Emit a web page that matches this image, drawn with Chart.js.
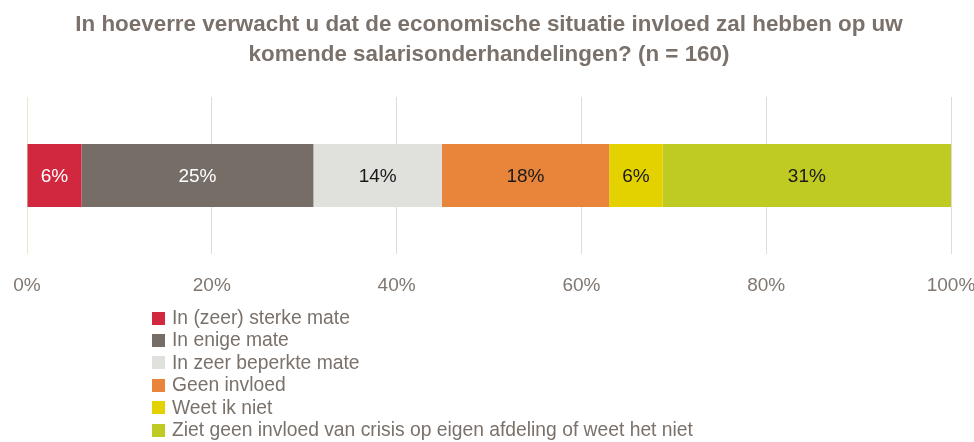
<!DOCTYPE html>
<html>
<head>
<meta charset="utf-8">
<script src="https://cdn.jsdelivr.net/npm/chart.js@4.4.1/dist/chart.umd.min.js"></script>
<style>
  html, body { margin: 0; padding: 0; background: #ffffff; }
  #wrap { position: relative; width: 974px; height: 442px; }
  #legend { position: absolute; left: 152px; top: 307px; font-family: "Liberation Sans", Arial, sans-serif; font-size: 19.3px; color: #7a716b; }
  #legend .item { height: 22.4px; line-height: 22.4px; white-space: nowrap; display: flex; align-items: center; }
  #legend .sw { width: 13px; height: 13px; margin-right: 7px; flex: none; }
</style>
</head>
<body>
<div id="wrap">
  <canvas id="c" width="974" height="442"></canvas>
  <div id="legend"></div>
</div>
<script>
const titleLines = ["In hoeverre verwacht u dat de economische situatie invloed zal hebben op uw", "komende salarisonderhandelingen? (n = 160)"];
const categories = [""];
const seriesNames = ["In (zeer) sterke mate", "In enige mate", "In zeer beperkte mate", "Geen invloed", "Weet ik niet", "Ziet geen invloed van crisis op eigen afdeling of weet het niet"];
const seriesValues = [5.9, 25.1, 13.9, 18.1, 5.8, 31.2];
const seriesColors = ["#d2283f", "#766d67", "#e0e0dc", "#e8853b", "#e3d200", "#bfca22"];
const labelColors = ["#ffffff", "#ffffff", "#1a1a1a", "#1a1a1a", "#1a1a1a", "#1a1a1a"];
const tickValues = [0, 20, 40, 60, 80, 100];

const datasets = seriesNames.map((name, i) => ({
  label: name,
  data: [seriesValues[i]],
  backgroundColor: seriesColors[i],
  borderWidth: 0,
  barPercentage: 0.4,
  categoryPercentage: 1.0
}));

const valueLabels = {
  id: 'valueLabels',
  afterDatasetsDraw(chart) {
    const ctx = chart.ctx;
    ctx.save();
    ctx.font = '19px "Liberation Sans", Arial, sans-serif';
    ctx.textAlign = 'center';
    ctx.textBaseline = 'middle';
    chart.data.datasets.forEach((ds, i) => {
      const meta = chart.getDatasetMeta(i);
      meta.data.forEach((el, j) => {
        const cx = (el.x + el.base) / 2;
        ctx.fillStyle = labelColors[i];
        ctx.fillText(Math.round(ds.data[j]) + '%', cx, el.y + 1);
      });
    });
    ctx.restore();
  }
};

const chart = new Chart(document.getElementById('c'), {
  type: 'bar',
  data: { labels: categories, datasets },
  options: {
    indexAxis: 'y',
    responsive: false,
    animation: false,
    layout: { padding: { left: 27, right: 23, top: 0, bottom: 143 } },
    plugins: {
      legend: { display: false },
      tooltip: { enabled: false },
      title: {
        display: true,
        text: titleLines,
        color: '#7a716b',
        font: { family: '"Liberation Sans", Arial, sans-serif', size: 22.4, weight: 'bold', lineHeight: 1.34 },
        padding: { top: 9.5, bottom: 27.5 }
      }
    },
    scales: {
      x: {
        stacked: true,
        min: 0, max: 100,
        afterBuildTicks(axis) { axis.ticks = tickValues.map(v => ({ value: v })); },
        afterFit(axis) { axis.paddingLeft = 0; axis.paddingRight = 0; axis.height = 45; },
        grid: {
          color: (c) => c.index === 0 ? '#e6e8c6' : '#dcdcdc',
          lineWidth: 1,
          drawTicks: false
        },
        border: { display: false },
        ticks: {
          padding: 20,
          color: '#7f7770',
          font: { family: '"Liberation Sans", Arial, sans-serif', size: 19 },
          callback: (v) => v + '%'
        }
      },
      y: {
        stacked: true,
        display: false
      }
    }
  },
  plugins: [valueLabels]
});

const legendEl = document.getElementById('legend');
chart.data.datasets.forEach(ds => {
  const item = document.createElement('div');
  item.className = 'item';
  const sw = document.createElement('span');
  sw.className = 'sw';
  sw.style.background = ds.backgroundColor;
  const tx = document.createElement('span');
  tx.textContent = ds.label;
  item.appendChild(sw);
  item.appendChild(tx);
  legendEl.appendChild(item);
});
</script>
</body>
</html>
